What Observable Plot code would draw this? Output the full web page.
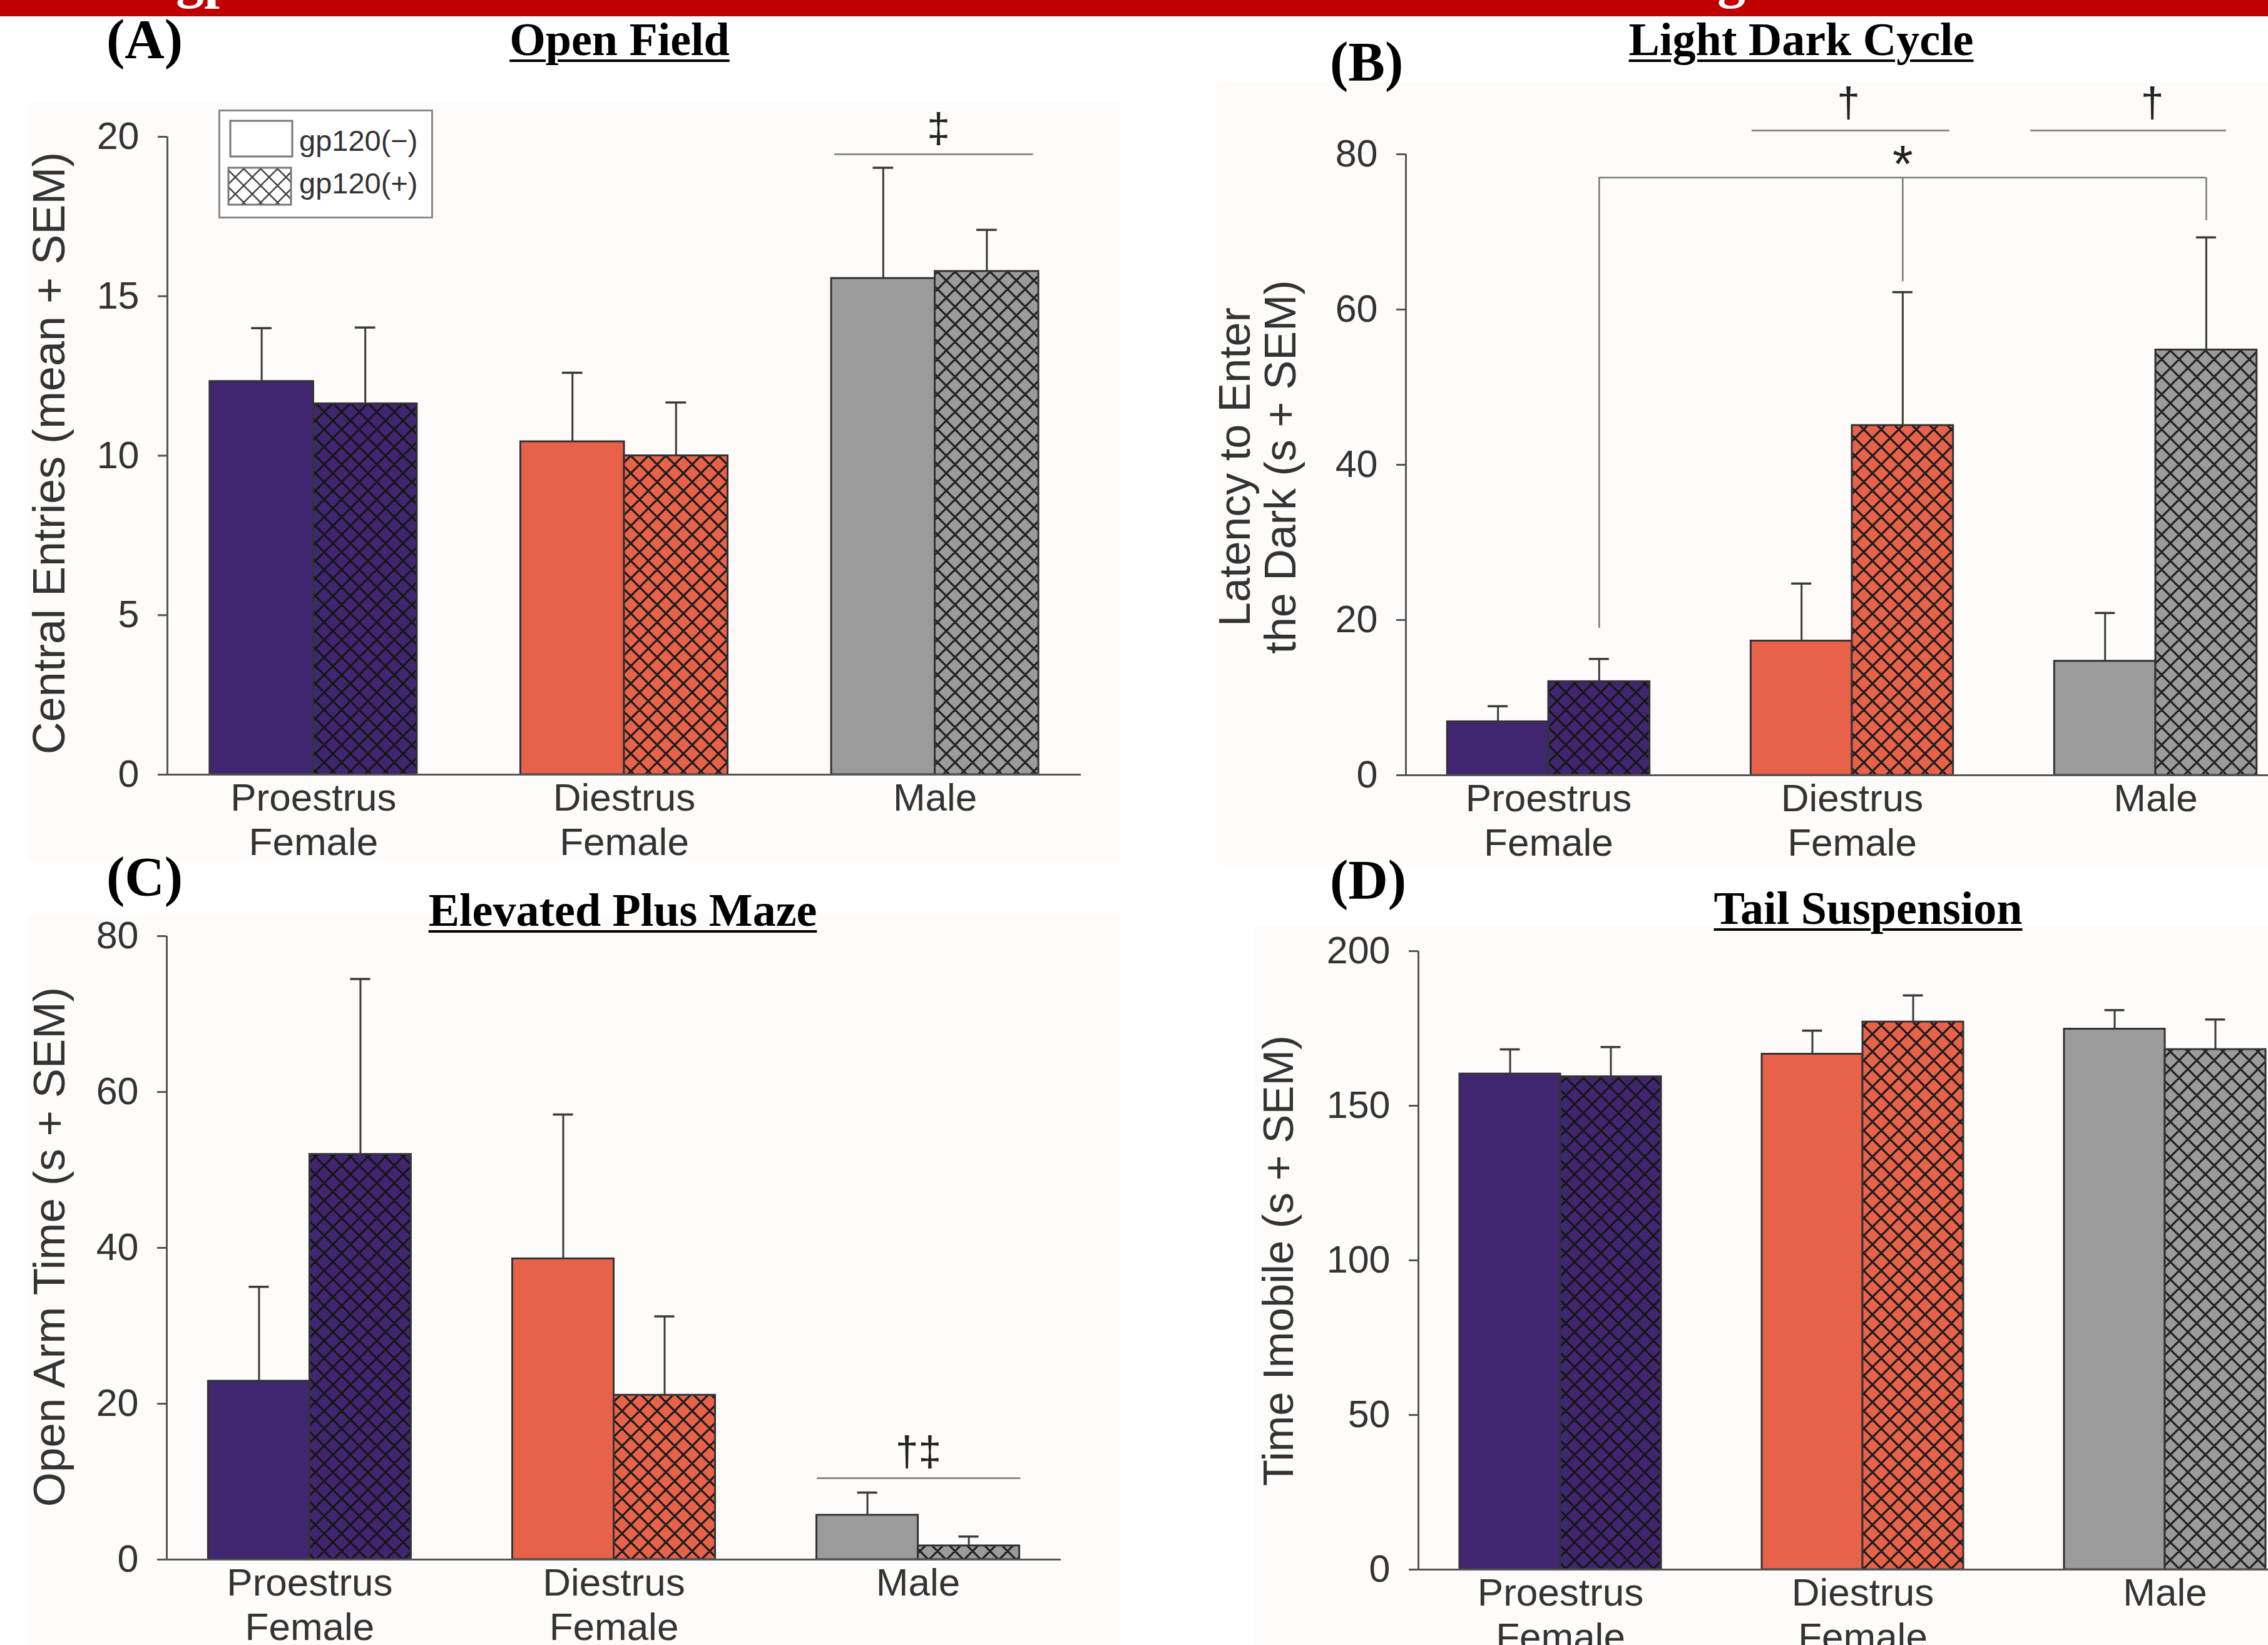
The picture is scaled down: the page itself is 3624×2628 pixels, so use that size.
<!DOCTYPE html>
<html>
<head>
<meta charset="utf-8">
<script src="https://cdn.jsdelivr.net/npm/d3@7"></script>
<script src="https://cdn.jsdelivr.net/npm/@observablehq/plot@0.6"></script>
<style>
html, body { margin:0; padding:0; width:3624px; height:2628px; overflow:hidden; background:#ffffff; }
#root { position:relative; width:3624px; height:2628px; overflow:hidden; background:#ffffff; font-family:"Liberation Sans", Arial, sans-serif; }
.abs { position:absolute; }
.bg { position:absolute; background:#fdfcfb; }
.title { position:absolute; font-family:"Liberation Serif","Times New Roman",serif; font-weight:bold; font-size:74px; line-height:1; white-space:nowrap; color:#000; text-decoration:underline; text-decoration-thickness:4px; text-underline-offset:7px; transform:translateX(-50%); }
.letter { position:absolute; font-family:"Liberation Serif","Times New Roman",serif; font-weight:bold; font-size:88px; line-height:1; white-space:nowrap; color:#000; }
.ylab { position:absolute; font-family:"Liberation Sans", Arial, sans-serif; line-height:1; white-space:nowrap; color:#333; text-align:center; transform:translate(-50%,-50%) rotate(-90deg); }
.banner { position:absolute; left:0; top:0; width:3624px; height:26px; background:#c00000; overflow:hidden; }
.banner span { position:absolute; font-family:"Liberation Serif","Times New Roman",serif; font-weight:bold; color:#fff; line-height:1; white-space:nowrap; }
</style>
</head>
<body>
<svg width="0" height="0" style="position:absolute;left:0;top:0">
  <defs id="patdefs"></defs>
</svg>
<div id="root"></div>
<script>
// ---------------- data ----------------
const categories = ["Proestrus\nFemale", "Diestrus\nFemale", "Male"];
const treatments = ["gp120(\u2212)", "gp120(+)"];
const groupColors = ["#402670", "#e8624a", "#9b9b9b"];
const hatchIds = ["hatch-purple", "hatch-orange", "hatch-gray"];

// (A) Open Field - Central Entries
const ofMeanNeg = [12.33, 10.44, 15.56];
const ofSemNeg  = [1.67, 2.16, 3.47];
const ofMeanPos = [11.63, 10.0, 15.78];
const ofSemPos  = [2.39, 1.67, 1.30];
const ofTicks = [0, 5, 10, 15, 20];
const ofSigLines = [{y: 19.45, x1: 1.677, x2: 2.316}];
const ofSigSymbols = [{x: 2.011, y: 20.25, text: "\u2021"}];

// (B) Light Dark Cycle - Latency to enter the dark
const ldMeanNeg = [6.9, 17.3, 14.7];
const ldSemNeg  = [2.0, 7.4, 6.2];
const ldMeanPos = [12.07, 45.07, 54.8];
const ldSemPos  = [2.91, 17.17, 14.5];
const ldTicks = [0, 20, 40, 60, 80];
const ldSigLines = [{y: 83.06, x1: 0.670, x2: 1.321}, {y: 83.06, x1: 1.588, x2: 2.233}];
const ldSigSymbols = [{x: 0.988, y: 86.6, text: "\u2020"}, {x: 1.989, y: 86.6, text: "\u2020"}];
const ldBracketY = 77.0;
const ldBracketGroups = [0, 1, 2];
const ldBracketDropEnds = [18.95, 63.6, 71.45];
const ldBracketSymbol = [{g: 1, y: 78.6, text: "*"}];

// (C) Elevated Plus Maze - Open arm time
const epMeanNeg = [22.9, 38.6, 5.7];
const epSemNeg  = [12.1, 18.5, 2.9];
const epMeanPos = [52.0, 21.1, 1.77];
const epSemPos  = [22.5, 10.1, 1.18];
const epTicks = [0, 20, 40, 60, 80];
const epSigLines = [{y: 10.44, x1: 1.668, x2: 2.337}];
const epSigSymbols = [{x: 2.001, y: 13.8, text: "\u2020\u2021"}];

// (D) Tail Suspension - Time immobile
const tsMeanNeg = [160.3, 166.7, 174.8];
const tsSemNeg  = [7.9, 7.6, 6.1];
const tsMeanPos = [159.4, 177.1, 168.2];
const tsSemPos  = [9.6, 8.6, 9.7];
const tsTicks = [0, 50, 100, 150, 200];

// ---------------- patterns ----------------
function hatchPattern(id, fill, line, size, sw) {
  let d = "";
  for (const ox of [-size, 0, size]) for (const oy of [-size, 0, size]) {
    d += `M${ox},${oy}L${ox + size},${oy + size}M${ox + size},${oy}L${ox},${oy + size}`;
  }
  return `<pattern id="${id}" patternUnits="userSpaceOnUse" width="${size}" height="${size}">
    <rect width="${size}" height="${size}" fill="${fill}"/>
    <path d="${d}" stroke="${line}" stroke-width="${sw}" fill="none"/>
  </pattern>`;
}
document.getElementById("patdefs").innerHTML =
  hatchPattern("hatch-purple", groupColors[0], "#161616", 28, 3.2) +
  hatchPattern("hatch-orange", groupColors[1], "#1c1c1c", 28, 3.2) +
  hatchPattern("hatch-gray", groupColors[2], "#222222", 28, 3.2) +
  hatchPattern("hatch-legend", "#ffffff", "#444444", 27, 2.5);

// ---------------- layout helpers ----------------
const BW = 1 / 3, CAP = 0.033, XMIN = -0.47, XMAX = 2.47;
function rowsOf(mn, sn, mp, sp) {
  const r = [];
  for (let g = 0; g < categories.length; g++) {
    r.push({g, t: 0, mean: mn[g], sem: sn[g]});
    r.push({g, t: 1, mean: mp[g], sem: sp[g]});
  }
  return r;
}
const center = d => d.g + (d.t ? BW / 2 : -BW / 2);

function makePanel(cfg) {
  const rows = rowsOf(...cfg.values);
  const marks = [
    Plot.rectY(rows, {
      x1: d => d.g + (d.t ? 0 : -BW),
      x2: d => d.g + (d.t ? BW : 0),
      y1: () => 0, y2: "mean",
      fill: d => d.t ? `url(#${hatchIds[d.g]})` : groupColors[d.g],
      stroke: "#333", strokeWidth: 3
    }),
    Plot.ruleX(rows, {x: center, y1: "mean", y2: d => d.mean + d.sem, stroke: "#3a3a3a", strokeWidth: 3}),
    Plot.ruleY(rows, {y: d => d.mean + d.sem, x1: d => center(d) - CAP, x2: d => center(d) + CAP, stroke: "#3a3a3a", strokeWidth: 3.5}),
    Plot.ruleY([0], {stroke: "#555", strokeWidth: 3}),
    Plot.ruleX([XMIN], {stroke: "#555", strokeWidth: 3}),
    Plot.axisY({ticks: cfg.ticks, tickSize: 15, tickPadding: 30, fontSize: 61, label: null, stroke: "#555", strokeWidth: 3, fill: "#333"}),
    Plot.axisX({ticks: [0, 1, 2], tickFormat: i => categories[i], tickSize: 0, tickPadding: 7, fontSize: 62, label: null, fill: "#333", lineHeight: 1.15}),
    ...(cfg.extra || [])
  ];
  const svg = Plot.plot({
    width: cfg.width, height: cfg.height,
    marginLeft: cfg.m[0], marginRight: cfg.m[1], marginTop: cfg.m[2], marginBottom: cfg.m[3],
    x: {domain: [XMIN, XMAX]},
    y: {domain: cfg.yDomain},
    color: {type: "identity"},
    style: {background: "transparent", overflow: "visible", fontFamily: "'Liberation Sans', Arial, sans-serif", color: "#333", maxWidth: "none"},
    marks
  });
  svg.style.position = "absolute";
  svg.style.left = cfg.left + "px";
  svg.style.top = cfg.top + "px";
  return svg;
}

function sigMarks(lines, symbols) {
  return [
    Plot.ruleY(lines, {y: "y", x1: "x1", x2: "x2", stroke: "#8c8c8c", strokeWidth: 3}),
    Plot.text(symbols, {x: "x", y: "y", text: "text", fontSize: 66, fill: "#222"})
  ];
}

const root = document.getElementById("root");
function addDiv(cls, html, style) {
  const el = document.createElement("div");
  el.className = cls;
  el.innerHTML = html;
  Object.assign(el.style, style);
  root.appendChild(el);
  return el;
}

// backgrounds of the pasted panels
addDiv("bg", "", {left: "46px", top: "163px", width: "1744px", height: "1210px"});
addDiv("bg", "", {left: "1944px", top: "132px", width: "1680px", height: "1250px"});
addDiv("bg", "", {left: "46px", top: "1462px", width: "1744px", height: "1166px"});
addDiv("bg", "", {left: "2004px", top: "1480px", width: "1620px", height: "1148px"});

// banner
const banner = addDiv("banner", "", {});
banner.innerHTML = '<span style="left:281px;top:-80px;font-size:90px">gp</span><span style="left:2744px;top:-80px;font-size:90px">g</span>';

// panels
root.appendChild(makePanel({
  values: [ofMeanNeg, ofSemNeg, ofMeanPos, ofSemPos], ticks: ofTicks, yDomain: [0, 20],
  left: 0, top: 140, width: 1800, height: 1260, m: [267, 73, 78, 163],
  extra: sigMarks(ofSigLines, ofSigSymbols)
}));

const bracketPts = ldBracketGroups.map((g, i) => ({x: g + BW / 2, y: ldBracketDropEnds[i]}));
root.appendChild(makePanel({
  values: [ldMeanNeg, ldSemNeg, ldMeanPos, ldSemPos], ticks: ldTicks, yDomain: [0, 80],
  left: 1900, top: 140, width: 1800, height: 1260, m: [346, 28, 106, 162],
  extra: [
    ...sigMarks(ldSigLines, ldSigSymbols),
    Plot.ruleY([ldBracketY], {x1: bracketPts[0].x, x2: bracketPts[bracketPts.length - 1].x, stroke: "#777", strokeWidth: 2.5}),
    Plot.ruleX(bracketPts, {x: "x", y1: () => ldBracketY, y2: "y", stroke: "#777", strokeWidth: 2.5}),
    Plot.text(ldBracketSymbol, {x: d => d.g + BW / 2, y: "y", text: "text", fontSize: 84, fill: "#222"})
  ]
}));

root.appendChild(makePanel({
  values: [epMeanNeg, epSemNeg, epMeanPos, epSemPos], ticks: epTicks, yDomain: [0, 80],
  left: 0, top: 1400, width: 1800, height: 1228, m: [266, 105, 95, 137],
  extra: sigMarks(epSigLines, epSigSymbols)
}));

root.appendChild(makePanel({
  values: [tsMeanNeg, tsSemNeg, tsMeanPos, tsSemPos], ticks: tsTicks, yDomain: [0, 200],
  left: 1900, top: 1400, width: 1800, height: 1228, m: [366, 14, 119, 121]
}));

// titles
addDiv("title", "Open Field", {left: "990px", top: "26px"});
addDiv("title", "Light Dark Cycle", {left: "2878px", top: "26px"});
addDiv("title", "Elevated Plus Maze", {left: "995px", top: "1417px"});
addDiv("title", "Tail Suspension", {left: "2985px", top: "1414px"});

// panel letters
addDiv("letter", "(A)", {left: "170px", top: "19px"});
addDiv("letter", "(B)", {left: "2125px", top: "55px"});
addDiv("letter", "(C)", {left: "170px", top: "1357px"});
addDiv("letter", "(D)", {left: "2125px", top: "1362px"});

// y-axis titles
addDiv("ylab", "Central Entries (mean + SEM)", {left: "78px", top: "724px", fontSize: "72px"});
addDiv("ylab", "Latency to Enter<br>the Dark (s + SEM)", {left: "2010px", top: "746px", fontSize: "70px", lineHeight: "73px"});
addDiv("ylab", "Open Arm Time (s + SEM)", {left: "78px", top: "1992px", fontSize: "71px"});
addDiv("ylab", "Time Imobile (s + SEM)", {left: "2042px", top: "2014px", fontSize: "69px"});

// legend
const leg = document.createElementNS("http://www.w3.org/2000/svg", "svg");
leg.setAttribute("width", 343); leg.setAttribute("height", 174);
leg.style.position = "absolute"; leg.style.left = "349px"; leg.style.top = "175px";
leg.innerHTML = `
  <rect x="1.5" y="1.5" width="340" height="171" fill="#ffffff" stroke="#8a8a8a" stroke-width="3"/>
  <rect x="19" y="18" width="99" height="57" fill="#ffffff" stroke="#777" stroke-width="3"/>
  <rect x="16" y="93" width="100" height="59" fill="url(#hatch-legend)" stroke="#777" stroke-width="3"/>
  <text x="129" y="66" font-family="Liberation Sans, Arial, sans-serif" font-size="47" fill="#333">${treatments[0]}</text>
  <text x="129" y="134" font-family="Liberation Sans, Arial, sans-serif" font-size="47" fill="#333">${treatments[1]}</text>`;
root.appendChild(leg);
</script>
</body>
</html>
